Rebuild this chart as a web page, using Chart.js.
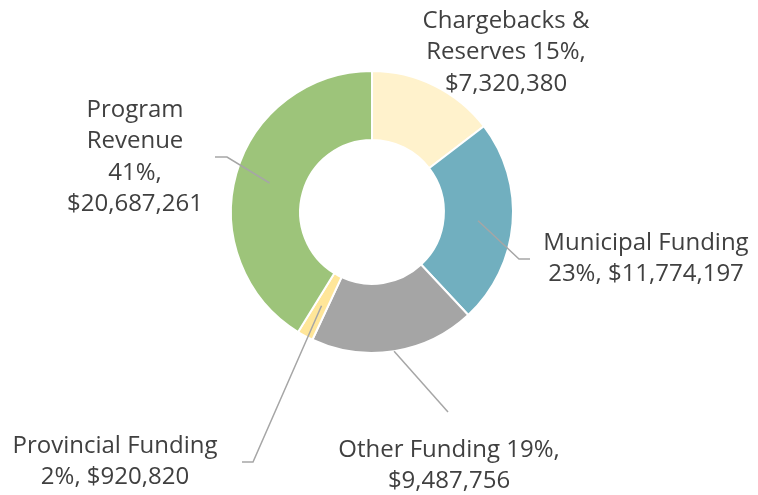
<!DOCTYPE html>
<html>
<head>
<meta charset="utf-8">
<script src="https://cdn.jsdelivr.net/npm/chart.js@4"></script>
<style>
  html, body { margin: 0; padding: 0; background: #fff; }
  #wrap { width: 758px; height: 495px; position: relative; }
</style>
</head>
<body>
<div id="wrap"><canvas id="chart-funding"></canvas></div>
<script>
const categories = ["Chargebacks & Reserves", "Municipal Funding", "Other Funding", "Provincial Funding", "Program Revenue"];
const amounts = [7320380, 11774197, 9487756, 920820, 20687261];
const percents = ["15%", "23%", "19%", "2%", "41%"];
const labelLines = [
  ["Chargebacks &", "Reserves 15%,", "$7,320,380"],
  ["Municipal Funding", "23%, $11,774,197"],
  ["Other Funding 19%,", "$9,487,756"],
  ["Provincial Funding", "2%, $920,820"],
  ["Program", "Revenue", "41%,", "$20,687,261"],
];

const COLORS = {
  slices: ["#FFF2CC", "#71AFBF", "#A5A5A5", "#FFE699", "#9DC47A"],
  text: "#404040",
  leader: "#A6A6A6",
};

// label placement: text centre x, first line middle y, leader elbow + end (null = no leader)
const LABEL_LAYOUT = [
  { x: 506, y: 21, leader: null, startR: 0.5 },
  { x: 646, y: 243, leader: [[519, 259], [530, 259]], startR: 0.5 },
  { x: 449, y: 450, leader: [[448, 412]], startR: 1.0 },
  { x: 115, y: 446, leader: [[253, 462], [242, 462]], startR: 0.5 },
  { x: 135, y: 110, leader: [[227, 157], [215, 157]], startR: 0.5 },
];

const calloutPlugin = {
  id: "callouts",
  afterDatasetsDraw(chart) {
    const ctx = chart.ctx;
    const arcs = chart.getDatasetMeta(0).data;
    ctx.save();
    arcs.forEach((arc, i) => {
      const p = arc.getProps(["x", "y", "startAngle", "endAngle", "innerRadius", "outerRadius"], true);
      const lay = LABEL_LAYOUT[i];
      if (lay.leader) {
        const mid = (p.startAngle + p.endAngle) / 2;
        const r = p.innerRadius + (p.outerRadius - p.innerRadius) * lay.startR;
        ctx.beginPath();
        ctx.moveTo(p.x + Math.cos(mid) * r, p.y + Math.sin(mid) * r);
        lay.leader.forEach(pt => ctx.lineTo(pt[0], pt[1]));
        ctx.strokeStyle = COLORS.leader;
        ctx.lineWidth = 1.5;
        ctx.stroke();
      }
      ctx.fillStyle = COLORS.text;
      ctx.font = "24px 'Open Sans'";
      ctx.textAlign = "center";
      ctx.textBaseline = "middle";
      labelLines[i].forEach((line, k) => {
        ctx.fillText(line, lay.x, lay.y + k * 31.5);
      });
    });
    ctx.restore();
  },
};

new Chart(document.getElementById("chart-funding"), {
  type: "doughnut",
  data: {
    labels: categories,
    datasets: [
      {
        data: amounts,
        backgroundColor: COLORS.slices,
        borderColor: "#FFFFFF",
        borderWidth: 2,
      },
    ],
  },
  options: {
    responsive: true,
    maintainAspectRatio: false,
    animation: false,
    cutout: "51%",
    layout: { padding: { top: 70, bottom: 141, left: 230, right: 244 } },
    plugins: {
      legend: { display: false },
      tooltip: { enabled: false },
    },
  },
  plugins: [calloutPlugin],
});
</script>
</body>
</html>
